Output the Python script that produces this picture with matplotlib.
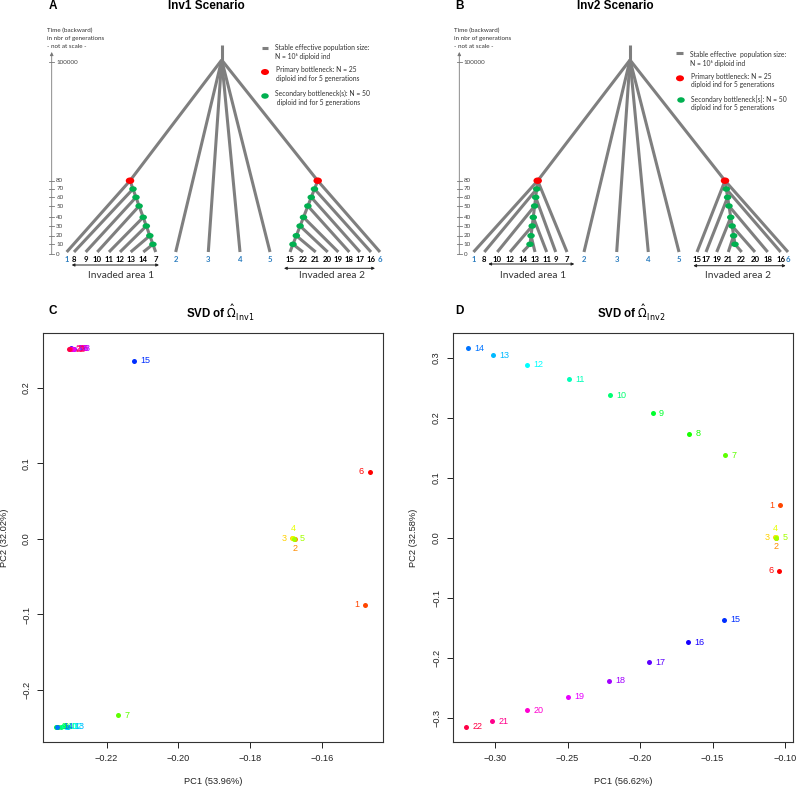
import colorsys
import matplotlib.pyplot as plt
from matplotlib.patches import Ellipse

plt.rcParams['font.family'] = ['Liberation Sans', 'DejaVu Sans']

# ---- panels C / D : SVD coordinates of the 22 populations ----
pops = list(range(1, 23))
inv1_pc1 = [-0.1481, -0.1676, -0.1683, -0.1681, -0.1679, -0.1467, -0.2167,
            -0.2336, -0.2341, -0.2327, -0.2318, -0.2312, -0.2308, -0.2337,
            -0.2123, -0.2296, -0.2300, -0.2291, -0.2293, -0.2299, -0.2303, -0.2305]
inv1_pc2 = [-0.0873, -0.0002, 0.0008, 0.0012, 0.0000, 0.0886, -0.2333,
            -0.2482, -0.2486, -0.2484, -0.2480, -0.2482, -0.2483, -0.2484,
            0.2358, 0.2515, 0.2518, 0.2516, 0.2512, 0.2514, 0.2512, 0.2510]
inv2_pc1 = [-0.1034, -0.1064, -0.1066, -0.1065, -0.1063, -0.1039, -0.1414,
            -0.1660, -0.1913, -0.2207, -0.2488, -0.2777, -0.3012, -0.3188,
            -0.1419, -0.1667, -0.1938, -0.2214, -0.2494, -0.2779, -0.3023, -0.3202]
inv2_pc2 = [0.0544, 0.0003, 0.0006, 0.0008, 0.0004, -0.0545, 0.1377,
            0.1733, 0.2072, 0.2377, 0.2644, 0.2883, 0.3044, 0.3155,
            -0.1367, -0.1740, -0.2073, -0.2378, -0.2650, -0.2873, -0.3057, -0.3150]
# R text pos: 1 below, 2 left, 3 above, 4 right
label_side = [2, 1, 2, 3, 4, 2] + [4] * 16
# rainbow(22) order, population 6 first
colour_rank = [1, 2, 3, 4, 5, 0] + list(range(6, 22))

# ---- panels A / B : scenario trees ----
gen_ticks = [0, 10, 20, 30, 40, 50, 60, 70, 80]
gen_y = [254.3, 244.3, 235.7, 226, 217.3, 206, 197.3, 189, 180.7]
split_gens = [70, 60, 50, 40, 30, 20, 10]
area1_branch = [8, 9, 10, 11, 12, 13, 14]
area2_branch = [16, 17, 18, 19, 20, 21, 22]
inv1_tip_order = [1, 8, 9, 10, 11, 12, 13, 14, 7, 2, 3, 4, 5,
                  15, 22, 21, 20, 19, 18, 17, 16, 6]
inv1_tip_x = [66.7, 74, 85.7, 97.3, 109, 120, 130.7, 143.3, 155.7, 175.7, 208.3, 240, 270,
              290, 303, 315.7, 327.7, 338.3, 349.3, 360, 371, 380]
inv2_tip_order = [1, 8, 10, 12, 14, 13, 11, 9, 7, 2, 3, 4, 5,
                  15, 17, 19, 21, 22, 20, 18, 16, 6]
inv2_tip_x = [73.5, 84.3, 97.3, 110, 122.7, 135, 146.7, 155.7, 167, 184, 216.7, 248.3, 279,
              297, 306, 316.7, 328.3, 341.7, 355, 367.7, 380.7, 388]

GREY = '#7f7f7f'
BLUE = '#2e7fc0'
W, H = 798, 788
TIP_Y = 252
SCHEME_FONT = ['Lato', 'DejaVu Sans']

fig = plt.figure(figsize=(W / 100, H / 100), dpi=100)


def px_axes(x0, y0, w, h):
    return fig.add_axes([x0 / W, 1 - (y0 + h) / H, w / W, h / H])


def gy(g):
    return gen_y[gen_ticks.index(g)]


def seg(ax, p, q):
    ax.plot([p[0], q[0]], [p[1], q[1]], color=GREY, lw=2.2,
            solid_capstyle='butt', zorder=1)


def along(p, q, y):
    t = (y - p[1]) / (q[1] - p[1])
    return (p[0] + t * (q[0] - p[0]), y)


def draw_scenario(ax, order, xs, lay):
    tips = dict(zip(order, xs))
    tip = lambda p: (tips[p], TIP_Y)
    root = (lay['root'], 60)
    seg(ax, (lay['root'], 45), root)
    red1, red2 = (lay['red1'], gy(80)), (lay['red2'], gy(80))
    seg(ax, root, red1); seg(ax, red1, tip(1))
    seg(ax, root, red2); seg(ax, red2, tip(6))
    for p in [2, 3, 4, 5]:
        seg(ax, root, tip(p))
    if lay['mode'] == 'ladder':
        end1, end2 = tip(7), tip(15)
    else:
        seg(ax, red1, tip(7)); seg(ax, red2, tip(15))
        end1, end2 = (lay['spine1'], gy(10)), (lay['spine2'], gy(10))
    seg(ax, red1, end1); seg(ax, red2, end2)
    greens = []
    for g, b1, b2 in zip(split_gens, area1_branch, area2_branch):
        n1, n2 = along(red1, end1, gy(g)), along(red2, end2, gy(g))
        seg(ax, n1, tip(b1)); seg(ax, n2, tip(b2))
        greens += [n1, n2]
    for n in greens:
        ax.add_patch(Ellipse(n, 7.5, 5.5, color='#00b050', zorder=3, lw=0))
    for n in (red1, red2):
        ax.add_patch(Ellipse(n, 8.5, 6.5, color='#ff0000', zorder=3, lw=0))
    for p, x in zip(order, xs):
        ax.text(x, 259, str(p), ha='center', va='center', fontsize=5.6,
                fontweight='bold', family=SCHEME_FONT,
                color=BLUE if p <= 6 else 'black')

    # time axis
    axx = lay['axis']
    ax.annotate('', xy=(axx, 52), xytext=(axx, 254.5),
                arrowprops=dict(arrowstyle='-|>', lw=0.6, color='#777777',
                                mutation_scale=5, shrinkA=0, shrinkB=0))
    for g in gen_ticks:
        ax.plot([axx - 2.5, axx + 2.5], [gy(g)] * 2, color='#777777', lw=0.6)
        ax.text(axx + 4.5, gy(g), str(g), va='center', fontsize=4.5,
                family=SCHEME_FONT, color='#444444')
    ax.plot([axx - 2.5, axx + 2.5], [62, 62], color='#777777', lw=0.6)
    ax.text(axx + 4.5, 62, '100000', va='center', fontsize=4.5,
            family=SCHEME_FONT, color='#444444')
    for i, s in enumerate(['Time (backward)', 'in nbr of generations', '- not at scale -']):
        ax.text(lay['time_x'], 30.7 + 8 * i, s, va='center', fontsize=4.5,
                family=SCHEME_FONT, color='#333333')

    # legend
    dx, dy = lay['dash']
    ax.plot([dx - 3.3, dx + 3.3], [dy, dy], color=GREY, lw=2.2, solid_capstyle='butt')
    ax.add_patch(Ellipse(lay['red_key'], 8, 6, color='#ff0000', lw=0))
    ax.add_patch(Ellipse(lay['green_key'], 7.5, 5.5, color='#00b050', lw=0))
    for (tx, ty), s in zip(lay['key_text_pos'], lay['key_text']):
        ax.text(tx, ty, s, va='center', fontsize=4.9, family=SCHEME_FONT,
                color='#333333')

    # invaded areas
    for (x0, x1, y), (tx, ty), s in zip(lay['arrows'], lay['area_text'],
                                        ['Invaded area 1', 'Invaded area 2']):
        ax.annotate('', xy=(x0, y), xytext=(x1, y),
                    arrowprops=dict(arrowstyle='<|-|>', lw=0.7, color='#222222',
                                    mutation_scale=4, shrinkA=0, shrinkB=0))
        ax.text(tx, ty, s, ha='center', va='center', fontsize=7.3,
                family=SCHEME_FONT, color='#333333')


lay_a = dict(mode='ladder', root=221.7, red1=130, red2=317.7, axis=51.7, time_x=46.7,
             dash=(265, 47.7), red_key=(265, 72), green_key=(265, 96),
             key_text_pos=[(275, 47.7), (275, 57), (276, 69.7), (276, 79), (275, 93), (275, 102.3)],
             key_text=['Stable effective population size:', 'N = 10\u2076 diploid ind',
                       'Primary bottleneck: N = 25', 'diploid ind for 5 generations',
                       'Secondary bottleneck(s): N = 50', ' diploid ind for 5 generations'],
             arrows=[(71.7, 159, 265), (284, 375, 268.3)],
             area_text=[(120.7, 275.7), (331.7, 275.7)])
lay_b = dict(mode='alternate', root=230, red1=137.7, red2=325, spine1=130, spine2=335,
             axis=59.3, time_x=54,
             dash=(279.3, 52.7), red_key=(280, 78.3), green_key=(281, 100),
             key_text_pos=[(290, 55), (290, 63.3), (290.7, 76), (290.7, 85), (290.7, 99), (290.7, 107.7)],
             key_text=['Stable effective  population size:', 'N = 10\u2076 diploid ind',
                       'Primary bottleneck: N = 25', 'diploid ind for 5 generations',
                       'Secondary bottleneck[s]: N = 50', 'diploid ind for 5 generations'],
             arrows=[(88.3, 174.3, 264), (293.3, 385.7, 265.7)],
             area_text=[(133.3, 275), (338.3, 275)])

ax_a = px_axes(0, 0, 400, 290)
ax_a.set_xlim(0, 400); ax_a.set_ylim(290, 0); ax_a.axis('off')
draw_scenario(ax_a, inv1_tip_order, inv1_tip_x, lay_a)
ax_b = px_axes(400, 0, 398, 290)
ax_b.set_xlim(0, 398); ax_b.set_ylim(290, 0); ax_b.axis('off')
draw_scenario(ax_b, inv2_tip_order, inv2_tip_x, lay_b)


def colour(p):
    r, g, b = colorsys.hsv_to_rgb(colour_rank[p - 1] / 22, 1, 1)
    return (r, g, b)


def r_range(v):
    lo, hi = min(v), max(v)
    pad = 0.04 * (hi - lo)
    return lo - pad, hi + pad


def fmt(v, d):
    return f'{v:.{d}f}'.replace('-', '\u2212')


def svd_panel(ax, pc1, pc2, xticks, yticks, xdec):
    for p, x, y in zip(pops, pc1, pc2):
        ax.plot(x, y, 'o', ms=3.6, mew=0, color=colour(p))
    offs = {1: ((0, -6.5), 'center', 'center'), 2: ((-4.5, 0), 'right', 'center'),
            3: ((0, 6.5), 'center', 'center'), 4: ((4.5, 0), 'left', 'center')}
    for p, x, y, side in zip(pops, pc1, pc2, label_side):
        off, ha, va = offs[side]
        ax.annotate(str(p), (x, y), xytext=off, textcoords='offset points',
                    ha=ha, va=va, fontsize=6.5, color=colour(p))
    ax.set_xlim(*r_range(pc1)); ax.set_ylim(*r_range(pc2))
    ax.set_xticks(xticks)
    ax.set_xticklabels([fmt(v, xdec) for v in xticks])
    ax.set_yticks(yticks)
    ax.set_yticklabels([fmt(v, 1) for v in yticks], rotation=90, va='center')
    ax.tick_params(direction='out', length=4.3, width=0.7, pad=4.5,
                   labelsize=6.6, colors='#222222')
    for s in ax.spines.values():
        s.set_linewidth(0.8); s.set_color('#333333')


ax_c = px_axes(43.3, 333.3, 339.4, 408.7)
svd_panel(ax_c, inv1_pc1, inv1_pc2, [-0.22, -0.20, -0.18, -0.16],
          [-0.2, -0.1, 0.0, 0.1, 0.2], 2)
ax_d = px_axes(453.3, 333.3, 339.4, 408.7)
svd_panel(ax_d, inv2_pc1, inv2_pc2, [-0.30, -0.25, -0.20, -0.15, -0.10],
          [-0.3, -0.2, -0.1, 0.0, 0.1, 0.2, 0.3], 2)


def ftext(x, y, s, **kw):
    fig.text(x / W, 1 - y / H, s, **kw)


ftext(48.3, 6.3, 'A', fontsize=8.5, fontweight='bold', va='center')
ftext(455, 6.3, 'B', fontsize=8.5, fontweight='bold', va='center')
ftext(206, 6.3, 'Inv1 Scenario', fontsize=8.5, fontweight='bold', ha='center', va='center')
ftext(615.5, 6.3, 'Inv2 Scenario', fontsize=8.5, fontweight='bold', ha='center', va='center')
ftext(48.3, 310.7, 'C', fontsize=8.5, fontweight='bold', va='center')
ftext(455, 310.7, 'D', fontsize=8.5, fontweight='bold', va='center')
ftext(220.3, 312.7, r'SVD of $\hat{\Omega}_{\mathrm{Inv1}}$', fontsize=8.3,
      fontweight='bold', ha='center', va='center')
ftext(630.7, 312.7, r'SVD of $\hat{\Omega}_{\mathrm{Inv2}}$', fontsize=8.3,
      fontweight='bold', ha='center', va='center')
ftext(212.7, 782, 'PC1 (53.96%)', fontsize=6.7, ha='center', va='center', color='#222222')
ftext(622.7, 782, 'PC1 (56.62%)', fontsize=6.7, ha='center', va='center', color='#222222')
ftext(5, 537.7, 'PC2 (32.02%)', fontsize=6.7, ha='center', va='center', rotation=90, color='#222222')
ftext(413.3, 537.7, 'PC2 (32.58%)', fontsize=6.7, ha='center', va='center', rotation=90, color='#222222')

fig.savefig('out.png', dpi=100)
